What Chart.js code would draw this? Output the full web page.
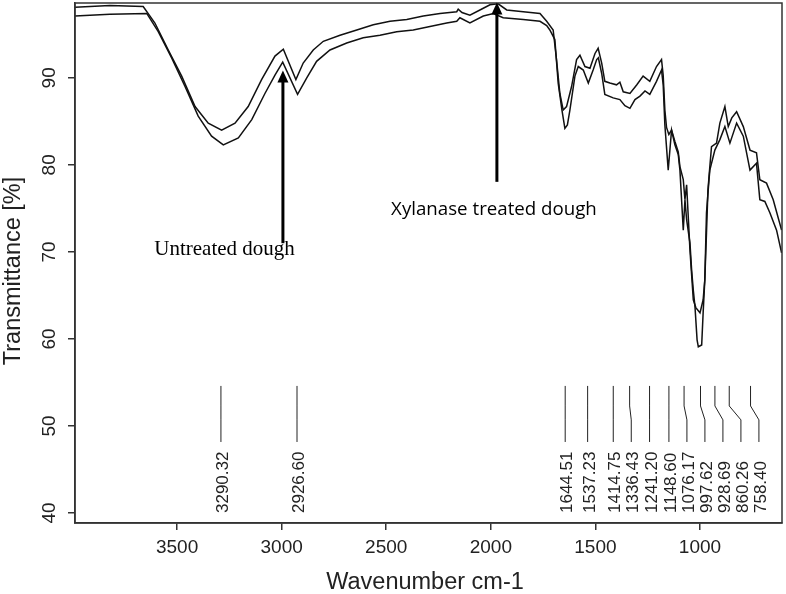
<!DOCTYPE html>
<html>
<head>
<meta charset="utf-8">
<script src="https://cdn.jsdelivr.net/npm/chart.js@4/dist/chart.umd.min.js"></script>
<style>
  html, body { margin: 0; padding: 0; background: #fff; }
  canvas { display: block; }
</style>
</head>
<body>
<canvas id="c" width="786" height="594"></canvas>
<script>
// ---- Data ----
// Xylanase treated dough (upper trace)
const xylanaseWave = [3988,3821,3662,3606,3542,3478,3414,3351,3287,3223,3160,3096,3032,2992,2932,2897,2849,2801,2721,2641,2562,2482,2402,2323,2243,2163,2156,2138,2100,2036,2004,1965,1924,1845,1765,1733,1702,1686,1670,1654,1638,1614,1590,1574,1550,1526,1502,1487,1470,1455,1431,1399,1383,1367,1335,1302,1272,1240,1208,1184,1176,1168,1160,1149,1136,1120,1104,1096,1080,1072,1064,1048,1032,1020,1000,985,977,969,962,953,945,921,905,881,865,848,825,793,761,730,714,682,650,610];
const xylanaseT = [98.1,98.3,98.2,96.3,93.2,90.2,86.7,84.8,84.0,84.8,86.7,89.8,92.5,93.3,89.8,91.7,93.2,94.2,94.9,95.5,96.1,96.5,96.7,97.1,97.4,97.6,97.9,97.5,97.2,98.0,98.4,98.5,97.8,97.6,97.4,96.5,95.5,92.1,88.2,86.3,86.7,89.0,92.1,92.6,91.3,91.1,92.8,93.4,91.7,89.6,89.4,89.2,89.5,88.4,88.2,89.2,90.2,89.6,91.3,92.1,90.3,86.3,84.3,83.5,84.0,82.7,81.5,79.8,78.3,76.0,77.7,70.2,64.5,63.6,63.0,64.5,66.8,72.2,77.1,79.8,82.1,82.5,84.8,86.7,84.4,85.4,86.1,84.4,81.7,81.4,78.3,77.9,76.0,72.5];

// Untreated dough (lower trace)
const untreatedWave = [3988,3821,3645,3590,3526,3462,3399,3335,3279,3207,3143,3080,3032,2995,2924,2880,2833,2769,2689,2610,2530,2450,2371,2291,2211,2163,2148,2100,2036,1988,1941,1845,1765,1733,1718,1694,1678,1660,1646,1634,1622,1598,1582,1558,1534,1511,1494,1486,1470,1455,1415,1383,1359,1335,1311,1287,1263,1240,1208,1184,1176,1168,1152,1136,1120,1104,1096,1080,1072,1064,1048,1040,1032,1024,1014,1008,992,985,977,969,957,953,929,905,881,857,825,793,761,730,714,690,666,634,610];
const untreatedT = [97.1,97.3,97.4,95.3,92.3,89.0,85.6,83.3,82.3,83.1,85.2,88.2,90.3,91.8,88.1,90.0,91.9,93.2,94.0,94.6,94.9,95.3,95.5,95.9,96.3,96.5,96.9,96.3,97.1,97.4,96.9,96.7,96.5,96.0,95.5,94.4,89.4,86.3,84.2,84.6,86.3,90.2,91.3,90.9,89.4,90.9,92.1,92.3,90.5,88.1,87.7,87.5,86.8,86.5,87.5,87.9,88.5,88.1,89.6,90.9,89.2,84.6,79.4,84.0,82.3,81.2,79.4,72.5,76.0,73.7,71.0,67.9,65.6,63.7,59.9,59.1,59.3,63.0,66.8,74.5,78.3,79.4,81.7,82.9,84.4,82.5,84.8,83.3,79.4,80.2,76.0,75.8,74.5,72.5,69.9];

// Peak picks
const peakWaves  = [3290.32, 2926.60, 1644.51, 1537.23, 1414.75, 1336.43, 1241.20, 1148.60, 1076.17, 997.62, 928.69, 860.26, 758.40];
const peakLabels = ["3290.32","2926.60","1644.51","1537.23","1414.75","1336.43","1241.20","1148.60","1076.17","997.62","928.69","860.26","758.40"];

// Axes
const xMin = 608, xMax = 3988;
const xTicks = [3500, 3000, 2500, 2000, 1500, 1000];
const yMin = 38.85, yMax = 98.6;
const yTicks = [40, 50, 60, 70, 80, 90];
const xTitle = "Wavenumber cm-1";
const yTitle = "Transmittance [%]";

// Annotations (wavenumber / transmittance coordinates)
const annoLabels = ["Untreated dough", "Xylanase treated dough"];
const annoArrowX = [2994, 1971];
const annoArrowFrom = [71.0, 78.05];
const annoArrowTo = [90.84, 98.65];
const annoTextX = [3273, 1985];
const annoTextY = [69.65, 74.25];

// ---- Build datasets ----
const toPts = (xs, ys) => xs.map((v, i) => ({ x: v, y: ys[i] }));

const SANS = '"Liberation Sans", Arial, sans-serif';
const INK = '#222';

const overlay = {
  id: 'overlay',
  afterDraw(chart) {
    const { ctx, chartArea: a, scales: { x, y } } = chart;
    ctx.save();
    // frame
    ctx.strokeStyle = '#333';
    ctx.lineWidth = 1.5;
    ctx.strokeRect(a.left, a.top, a.right - a.left, a.bottom - a.top);

    // y tick labels (rotated)
    ctx.fillStyle = INK;
    ctx.font = '19px ' + SANS;
    ctx.textAlign = 'center';
    ctx.textBaseline = 'alphabetic';
    y.ticks.forEach(t => {
      const py = y.getPixelForValue(t.value);
      ctx.save();
      ctx.translate(a.left - 20, py);
      ctx.rotate(-Math.PI / 2);
      ctx.fillText(String(t.value), 0, 0);
      ctx.restore();
    });

    // y title
    ctx.font = '23.5px ' + SANS;
    ctx.save();
    ctx.translate(20, 271);
    ctx.rotate(-Math.PI / 2);
    ctx.fillText(yTitle, 0, 0);
    ctx.restore();

    // x title
    ctx.fillText(xTitle, 425, 589);

    // peak markers
    ctx.strokeStyle = INK;
    ctx.lineWidth = 1;
    ctx.font = '17px ' + SANS;
    ctx.textAlign = 'left';
    const yTop = y.getPixelForValue(54.6);
    const yB1 = y.getPixelForValue(52.3);
    const yB2 = y.getPixelForValue(50.7);
    const yBot = y.getPixelForValue(48.16);
    const yTxt = y.getPixelForValue(40.0);
    let prev = -Infinity;
    peakWaves.forEach((w, i) => {
      const px = x.getPixelForValue(w);
      const lx = Math.max(px, prev + 18);
      prev = lx;
      ctx.beginPath();
      ctx.moveTo(px, yTop);
      ctx.lineTo(px, yB1);
      ctx.lineTo(lx, yB2);
      ctx.lineTo(lx, yBot);
      ctx.stroke();
      ctx.save();
      ctx.translate(lx + 7, yTxt);
      ctx.rotate(-Math.PI / 2);
      ctx.fillText(peakLabels[i], 0, 0);
      ctx.restore();
    });

    // arrows
    ctx.fillStyle = '#000';
    ctx.strokeStyle = '#000';
    annoArrowX.forEach((w, i) => {
      const px = x.getPixelForValue(w);
      const p0 = y.getPixelForValue(annoArrowFrom[i]);
      const p1 = y.getPixelForValue(annoArrowTo[i]);
      ctx.lineWidth = 3;
      ctx.beginPath();
      ctx.moveTo(px, p0);
      ctx.lineTo(px, p1 + 9);
      ctx.stroke();
      ctx.beginPath();
      ctx.moveTo(px, p1);
      ctx.lineTo(px - 5.5, p1 + 12);
      ctx.lineTo(px + 5.5, p1 + 12);
      ctx.closePath();
      ctx.fill();
    });

    // annotation texts
    ctx.textAlign = 'center';
    ctx.fillStyle = '#000';
    ctx.font = '21px "Liberation Serif", "Times New Roman", serif';
    ctx.fillText(annoLabels[0], x.getPixelForValue(annoTextX[0]), y.getPixelForValue(annoTextY[0]));
    ctx.font = '18.7px "Open Sans", Lato, sans-serif';
    ctx.fillText(annoLabels[1], x.getPixelForValue(annoTextX[1]), y.getPixelForValue(annoTextY[1]));

    ctx.restore();
  }
};

new Chart(document.getElementById('c'), {
  type: 'line',
  data: {
    datasets: [
      { label: 'Xylanase treated dough', data: toPts(xylanaseWave, xylanaseT), borderColor: '#111', borderWidth: 1.5, pointRadius: 0, tension: 0, fill: false },
      { label: 'Untreated dough', data: toPts(untreatedWave, untreatedT), borderColor: '#111', borderWidth: 1.5, pointRadius: 0, tension: 0, fill: false }
    ]
  },
  options: {
    responsive: false,
    devicePixelRatio: 1,
    animation: false,
    layout: { padding: { top: 3, right: 4, left: 0, bottom: 0 } },
    plugins: { legend: { display: false }, tooltip: { enabled: false } },
    scales: {
      x: {
        type: 'linear',
        reverse: true,
        min: xMin, max: xMax,
        afterFit: s => { s.height = 71; s.paddingLeft = 0; s.paddingRight = 0; },
        afterBuildTicks: s => { s.ticks = xTicks.map(v => ({ value: v })); },
        ticks: { color: INK, font: { family: SANS, size: 19 }, padding: 6, maxRotation: 0, minRotation: 0, autoSkip: false, callback: v => String(v) },
        grid: { drawOnChartArea: false, drawTicks: true, tickLength: 7, color: '#333', lineWidth: 1.5 },
        border: { display: true, color: '#333', width: 1.5 }
      },
      y: {
        type: 'linear',
        min: yMin, max: yMax,
        afterFit: s => { s.width = 75; },
        afterBuildTicks: s => { s.ticks = yTicks.map(v => ({ value: v })); },
        ticks: { display: false },
        grid: { drawOnChartArea: false, drawTicks: true, tickLength: 7, color: '#333', lineWidth: 1.5 },
        border: { display: true, color: '#333', width: 1.5 }
      }
    }
  },
  plugins: [overlay]
});
</script>
</body>
</html>
